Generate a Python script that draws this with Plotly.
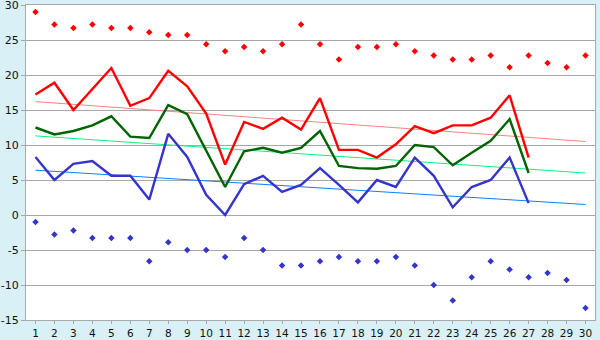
import plotly.graph_objects as go

days = list(range(1, 31))
line_days = list(range(1, 28))

# Daily extremes (markers, all 30 days)
max_points = [29.0, 27.2, 26.7, 27.2, 26.7, 26.7, 26.1, 25.7, 25.7, 24.4,
              23.4, 24.0, 23.4, 24.4, 27.2, 24.4, 22.2, 24.0, 24.0, 24.4,
              23.4, 22.8, 22.2, 22.2, 22.8, 21.1, 22.8, 21.7, 21.1, 22.8]
min_points = [-1.0, -2.8, -2.2, -3.3, -3.3, -3.3, -6.6, -3.9, -5.0, -5.0,
              -6.0, -3.3, -5.0, -7.2, -7.2, -6.6, -6.0, -6.6, -6.6, -6.0,
              -7.2, -10.0, -12.2, -8.9, -6.6, -7.8, -8.9, -8.3, -9.3, -13.3]

# Daily series (days 1-27)
high_line = [17.2, 18.9, 15.0, 18.0, 21.0, 15.6, 16.7, 20.6, 18.4, 14.5,
             7.2, 13.3, 12.3, 13.9, 12.2, 16.7, 9.3, 9.3, 8.2, 10.1,
             12.7, 11.7, 12.8, 12.8, 13.9, 17.1, 8.2]
mean_line = [12.5, 11.5, 12.0, 12.8, 14.1, 11.2, 11.0, 15.7, 14.4, 9.3,
             4.0, 9.1, 9.6, 8.9, 9.6, 12.0, 7.0, 6.7, 6.6, 7.0,
             10.0, 9.7, 7.1, 8.9, 10.6, 13.7, 6.0]
low_line = [8.3, 5.0, 7.3, 7.7, 5.6, 5.6, 2.2, 11.6, 8.3, 2.9,
            0.0, 4.4, 5.6, 3.3, 4.3, 6.7, 4.3, 1.8, 5.0, 4.0,
            8.2, 5.6, 1.1, 4.0, 5.0, 8.2, 1.7]

# Trend lines: values on day 1 and day 30
trend_days = [1, 30]
high_trend = [16.2, 10.5]
mean_trend = [11.3, 6.0]
low_trend = [6.4, 1.5]

y_ticks = [-15, -10, -5, 0, 5, 10, 15, 20, 25, 30]
y_labels = [str(v) for v in y_ticks]

fig = go.Figure()

for ys, col in [(high_trend, "#ff8080"), (mean_trend, "#10f080"), (low_trend, "#0a80ff")]:
    fig.add_trace(go.Scatter(x=trend_days, y=ys, mode="lines",
                             line=dict(color=col, width=1), hoverinfo="skip"))

for ys, col in [(high_line, "#ff0000"), (mean_line, "#006400"), (low_line, "#3535cc")]:
    fig.add_trace(go.Scatter(x=line_days, y=ys, mode="lines",
                             line=dict(color=col, width=2.4)))

fig.add_trace(go.Scatter(x=days, y=max_points, mode="markers",
                         marker=dict(symbol="diamond", size=5, color="#ff0000")))
fig.add_trace(go.Scatter(x=days, y=min_points, mode="markers",
                         marker=dict(symbol="diamond", size=5, color="#3535cc")))

axis_col = "#a8a8a8"
fig.update_layout(
    width=600, height=340,
    margin=dict(l=26, r=5, t=5, b=20),
    paper_bgcolor="#d9f0f6",
    plot_bgcolor="#ffffff",
    showlegend=False,
    font=dict(family="DejaVu Sans", size=11, color="#111111"),
    xaxis=dict(range=[0.5, 30.5], tickvals=days, ticktext=[str(d) for d in days],
               showgrid=False, zeroline=False, showline=True, linecolor=axis_col,
               mirror=True, ticks="outside", ticklen=3, tickcolor=axis_col,
               automargin=False, tickfont=dict(size=10.5)),
    yaxis=dict(range=[-15, 30], tickvals=y_ticks, ticktext=y_labels,
               showgrid=True, gridcolor=axis_col,
               gridwidth=1, zeroline=False, showline=True, linecolor=axis_col,
               mirror=True, ticks="outside", ticklen=4, tickcolor=axis_col,
               automargin=False, ticklabeloverflow="allow"),
)

fig.write_html("out.html")
